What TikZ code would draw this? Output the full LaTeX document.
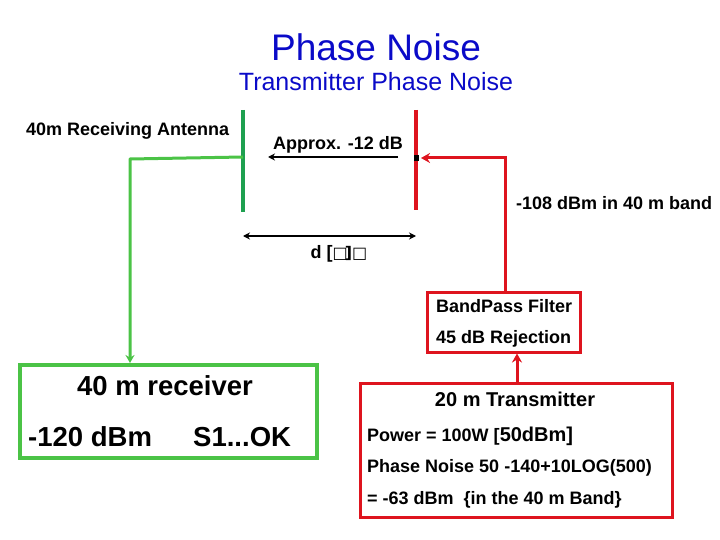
\documentclass[tikz,border=0pt]{standalone}
\usepackage{fontspec}
\setmainfont{Liberation Sans}
\newfontfamily\symfont{DejaVu Sans}
\usetikzlibrary{arrows.meta, positioning}
\definecolor{titleblue}{RGB}{10,10,200}
\definecolor{antgreen}{RGB}{30,160,80}
\definecolor{rxgreen}{RGB}{75,195,70}
\definecolor{txred}{RGB}{222,20,30}

\begin{document}
\begin{tikzpicture}[
  x=1pt, y=-1pt,
  txt/.style={font=\fontsize{18}{21}\selectfont\bfseries, inner sep=0pt},
  bigtxt/.style={font=\fontsize{27.5}{31}\selectfont\bfseries, inner sep=0pt},
  box/.style={draw, line width=3pt, inner sep=0pt},
  rarr/.style={-{Stealth[length=9pt, width=10pt]}, txred, line width=3pt},
  garr/.style={-{Stealth[length=8pt, width=9pt]}, rxgreen, line width=3pt},
  barr/.style={-{Stealth[length=7pt, width=7pt]}, line width=1.6pt}
]
\useasboundingbox (0,0) rectangle (720,540);

% titles
\node[titleblue, font=\fontsize{37}{42}\selectfont] (title) at (376,47) {Phase Noise};
\node[titleblue, font=\fontsize{25}{29}\selectfont] (subtitle) at (376,82) {Transmitter Phase Noise};

% receiving antenna
\node[txt, anchor=west] (rxant) at (26,131) {40m Receiving Antenna};
\coordinate (rxtop) at (243,110);
\coordinate (rxbot) at (243,212);
\coordinate (rxfeed) at (243,157);
\coordinate (rxbend) at (130,159);
\draw[antgreen, line width=3.5pt] (rxtop) -- (rxbot);

% transmitting antenna
\coordinate (txtop) at (416,110);
\coordinate (txbot) at (416,210);
\coordinate (txfeed) at (416,158);
\coordinate (txbend) at (505,158);
\draw[txred, line width=3.5pt] (txtop) -- (txbot);
\fill (txfeed) +(-2.5,-3) rectangle +(2.5,3);

% coupling
\coordinate (cplstart) at (398,157);
\coordinate (cplend) at (268,157);
\draw[barr] (cplstart) -- (cplend);
\node[txt, anchor=south west] (approx) at (273,153) {Approx. -12 dB};

\draw[{Stealth[length=7pt, width=7pt]}-{Stealth[length=7pt, width=7pt]}, line width=1.6pt]
  (rxbot |- 0,236) coordinate (dleft) -- (txbot |- 0,236) coordinate (dright);
\node[txt] (dist) at (339,254) {d [\symfont\fontsize{16}{18}\selectfont □\hspace{-3pt}]□};

\node[txt, anchor=west] (lvl) at (516,203) {-108 dBm in 40 m band};

% boxes
\node[box, draw=rxgreen, line width=4pt, minimum width=297pt, minimum height=93pt] (rx) at (168.5,411.5) {};
\node[bigtxt] (rxname) at (165,386) {40 m receiver};
\node[bigtxt, anchor=west] (rxlvl) at (28,437) {-120 dBm};
\node[bigtxt, anchor=west] (rxs) at (193,437) {S1...OK};

\node[box, draw=txred, minimum width=153pt, minimum height=60pt] (bpf) at (504,322) {};
\node[txt, anchor=west] (bpfa) at (436,306) {BandPass Filter};
\node[txt, anchor=west] (bpfb) at (436,339) {45 dB Rejection};

\node[box, draw=txred, minimum width=312pt, minimum height=134pt] (tx) at (516,450) {};
\node[txt, font=\fontsize{20}{23}\selectfont\bfseries] (txname) at (515,399) {20 m Transmitter};
\node[txt, anchor=west] (txpow) at (367,436) {Power = 100W [\fontsize{20}{23}\selectfont 50dBm]};
\node[txt, anchor=west] (txpn) at (367,468) {Phase Noise 50 -140+10LOG(500)};
\node[txt, anchor=west] (txres) at (367,500) {= -63 dBm\ \ \{in the 40 m Band\}};

% connectors
\draw[garr, line join=round] (rxfeed) -- (rxbend) -- (rxbend |- rx.north);
\draw[rarr] (bpf.north -| txbend) -- (txbend) -- ([xshift=5pt]txfeed);
\draw[rarr] ([xshift=1pt]tx.north) -- ([xshift=1pt]tx.north |- bpf.south);
\end{tikzpicture}
\end{document}
